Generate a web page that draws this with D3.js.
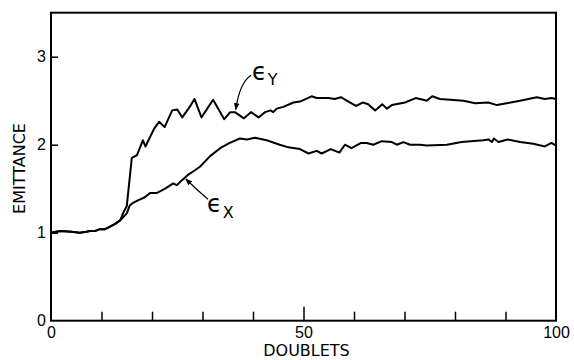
<!DOCTYPE html>
<html>
<head>
<meta charset="utf-8">
<script src="https://cdn.jsdelivr.net/npm/d3@7"></script>
<style>
  body { margin: 0; background: #fff; }
  svg { display: block; font-family: "DejaVu Sans", sans-serif; }
</style>
</head>
<body>
<div id="chart"></div>
<script>
// emittance growth along the doublet channel
const epsXDoublets = [0, 1, 2, 4, 5.7, 7, 7.7, 8.7, 9.7, 10.7, 11.7, 12.7, 13.7, 15, 15.6, 16, 17.3, 18.5, 19.6, 20.9,
  22.6, 24.2, 24.9, 26, 27.2, 28.5, 29.5, 31.5, 33.5, 35.4, 37.4, 38.8, 40.4, 42.7, 45.3, 47, 48.3, 49.3, 51, 52.6,
  53.6, 55.4, 57.1, 58.2, 59.5, 61.4, 62.5, 63.8, 65.5, 67.5, 68.5, 69.8, 71.1, 73.1, 74.4, 78.4, 81.3, 85.6, 86.6,
  87.3, 87.7, 88.6, 90.4, 92.9, 95.5, 97.8, 99.1, 100];
const epsXValues = [1.0, 1.01, 1.02, 1.01, 1.0, 1.01, 1.02, 1.02, 1.04, 1.04, 1.07, 1.1, 1.14, 1.22, 1.31, 1.33, 1.37, 1.4, 1.45, 1.45,
  1.5, 1.56, 1.54, 1.6, 1.66, 1.71, 1.75, 1.87, 1.96, 2.02, 2.07, 2.06, 2.08, 2.05, 2.0, 1.97, 1.96, 1.95, 1.9, 1.93,
  1.9, 1.95, 1.91, 2.0, 1.96, 2.02, 2.02, 2.0, 2.04, 2.03, 2.0, 2.03, 2.0, 2.0, 1.99, 2.0, 2.03, 2.05, 2.06,
  2.03, 2.07, 2.03, 2.06, 2.03, 2.01, 1.98, 2.02, 1.99];

const epsYDoublets = [0, 1, 2, 4, 5.7, 7, 7.7, 8.7, 9.7, 10.7, 11.7, 12.7, 13.7, 14.5, 15, 16, 17, 18.2, 18.7, 20.4,
  21.4, 22.5, 24, 25, 26, 27.7, 28.4, 29.8, 32.1, 34.3, 35.5, 36.4, 38.2, 39.6, 41.1, 42.4, 43.5, 44, 44.7, 46, 48,
  49.3, 51.6, 52.6, 54.9, 56.2, 57.4, 58.9, 60.4, 61.8, 62.8, 64.2, 65.6, 66.5, 67.5, 70.1, 72.2, 73.7, 74.4, 75.5,
  77, 81.7, 84, 86.6, 88.3, 90.2, 92.9, 96.2, 97.8, 99.1, 100];
const epsYValues = [1.0, 1.01, 1.02, 1.01, 1.0, 1.01, 1.02, 1.02, 1.04, 1.04, 1.07, 1.1, 1.14, 1.25, 1.3, 1.85, 1.88, 2.05, 1.98, 2.18,
  2.26, 2.2, 2.39, 2.4, 2.31, 2.45, 2.52, 2.31, 2.51, 2.29, 2.37, 2.37, 2.3, 2.37, 2.31, 2.37, 2.39, 2.37, 2.41, 2.43, 2.48,
  2.49, 2.55, 2.53, 2.53, 2.52, 2.54, 2.49, 2.44, 2.48, 2.46, 2.39, 2.46, 2.41, 2.45, 2.48, 2.53, 2.51, 2.5, 2.55,
  2.52, 2.5, 2.47, 2.48, 2.45, 2.47, 2.5, 2.54, 2.52, 2.53, 2.52];

const yTickValues = [0, 1, 2, 3];
const xMinorTicks = [10, 20, 30, 40, 50, 60, 70, 80, 90];
const xLabelTicks = [0, 50, 100];

const margin = {top: 12.7, right: 18, bottom: 39.3, left: 51},
  width = 574 - margin.left - margin.right,
  height = 360 - margin.top - margin.bottom;

const x = d3.scaleLinear().domain([0, 100]).range([0, width]);
const y = d3.scaleLinear().domain([0, 3.5]).range([height, 0]);

const root = d3.select('#chart').append('svg')
  .attr('width', 574)
  .attr('height', 360);

const svg = root.append('g')
  .attr('transform', 'translate(' + margin.left + ',' + margin.top + ')');

root.append('defs').append('marker')
  .attr('id', 'head')
  .attr('viewBox', '0 0 10 10')
  .attr('refX', 9).attr('refY', 5)
  .attr('markerWidth', 7).attr('markerHeight', 7)
  .attr('markerUnits', 'userSpaceOnUse')
  .attr('orient', 'auto')
  .append('path')
  .attr('d', 'M0,1 L10,5 L0,9 Z')
  .attr('fill', '#000');

// frame
svg.append('rect')
  .attr('width', width)
  .attr('height', height)
  .attr('fill', 'none')
  .attr('stroke', '#000')
  .attr('stroke-width', 2);

// y axis, ticks pointing inward
const yAxis = svg.append('g')
  .call(d3.axisLeft(y).tickValues(yTickValues).tickSizeInner(-7).tickSizeOuter(0).tickPadding(5).tickFormat(d3.format('d')));
yAxis.select('.domain').remove();
yAxis.selectAll('line').attr('stroke-width', 1.5).filter(d => d === 0).remove();
yAxis.selectAll('text').attr('font-size', 16).attr('fill', '#000');

// x axis minor ticks, inward
const xTicks = svg.append('g')
  .attr('transform', 'translate(0,' + height + ')')
  .call(d3.axisBottom(x).tickValues(xMinorTicks).tickSizeInner(-9).tickSizeOuter(0).tickFormat(''));
xTicks.select('.domain').remove();
xTicks.selectAll('line').attr('stroke-width', 1.5)
  .attr('y2', d => d === 50 ? -14 : -9);

// x labels
const xLabels = svg.append('g')
  .attr('transform', 'translate(0,' + height + ')')
  .call(d3.axisBottom(x).tickValues(xLabelTicks).tickSize(0).tickPadding(6).tickFormat(d3.format('d')));
xLabels.select('.domain').remove();
xLabels.selectAll('text').attr('font-size', 16).attr('fill', '#000');

// curves
const line = d3.line()
  .x(d => x(d[0]))
  .y(d => y(d[1]));

const series = [
  d3.zip(epsXDoublets, epsXValues),
  d3.zip(epsYDoublets, epsYValues)
];

svg.selectAll('.curve')
  .data(series)
  .enter().append('path')
  .attr('class', 'curve')
  .attr('d', line)
  .attr('fill', 'none')
  .attr('stroke', '#000')
  .attr('stroke-width', 2)
  .attr('stroke-linejoin', 'round');

// annotations
const arrowY = d3.path();
arrowY.moveTo(x(39.6), y(2.79));
arrowY.quadraticCurveTo(x(37.3), y(2.7), x(36.6), y(2.4));
svg.append('path')
  .attr('d', arrowY.toString())
  .attr('fill', 'none')
  .attr('stroke', '#000')
  .attr('stroke-width', 1.2)
  .attr('marker-end', 'url(#head)');

const arrowX = d3.path();
arrowX.moveTo(x(31.1), y(1.38));
arrowX.quadraticCurveTo(x(28.8), y(1.49), x(26.7), y(1.61));
svg.append('path')
  .attr('d', arrowX.toString())
  .attr('fill', 'none')
  .attr('stroke', '#000')
  .attr('stroke-width', 1.2)
  .attr('marker-end', 'url(#head)');

const labY = svg.append('text')
  .attr('x', x(39.8))
  .attr('y', y(2.735))
  .attr('font-size', 24);
labY.append('tspan').text('ϵ');
labY.append('tspan').attr('font-size', 16).attr('dx', 1).attr('dy', 5).text('Y');

const labX = svg.append('text')
  .attr('x', x(30.9))
  .attr('y', y(1.235))
  .attr('font-size', 24);
labX.append('tspan').text('ϵ');
labX.append('tspan').attr('font-size', 16).attr('dx', 1).attr('dy', 6).text('X');

// axis titles
root.append('text')
  .attr('transform', 'translate(25,168.5) rotate(-90)')
  .attr('text-anchor', 'middle')
  .attr('font-size', 16)
  .text('EMITTANCE');

root.append('text')
  .attr('x', 306.5)
  .attr('y', 356)
  .attr('text-anchor', 'middle')
  .attr('font-size', 16)
  .text('DOUBLETS');
</script>
</body>
</html>
